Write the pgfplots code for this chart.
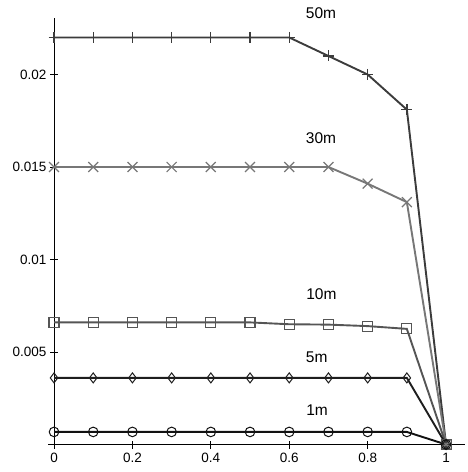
\documentclass[border=0pt]{standalone}
\usepackage{fontspec}
\setmainfont{Liberation Sans}
\usepackage{pgfplots}
\pgfplotsset{compat=1.18}
\definecolor{c50}{HTML}{3C3C3C}
\definecolor{c30}{HTML}{777777}
\definecolor{c10}{HTML}{555555}
\definecolor{c5}{HTML}{1E1E1E}
\definecolor{c1}{HTML}{111111}
\begin{document}
\begin{tikzpicture}
\begin{axis}[
  scale only axis,
  width=416.7pt, height=430.1pt,
  xmin=-0.015, xmax=1.048,
  ymin=-0.0002, ymax=0.02305,
  axis lines=middle,
  axis line style={-, line width=0.9pt, black},
  hide obscured x ticks=false,
  hide obscured y ticks=false,
  scaled y ticks=false,
  scaled x ticks=false,
  xtick={0,0.2,0.4,0.6,0.8,1},
  xticklabels={0,0.2,0.4,0.6,0.8,1},
  ytick={0.005,0.01,0.015,0.02},
  yticklabels={0.005,0.01,0.015,0.02},
  tick align=center,
  major tick length=8pt,
  tick style={black, line width=0.8pt},
  tick label style={font=\fontsize{13.5}{15}\selectfont},
  x tick label style={yshift=-1pt},
  clip=false,
]
\addplot[c50, line width=1.9pt, mark=+, mark size=5.5, mark options={line width=1.3pt}]
  coordinates {(0,0.022)(0.1,0.022)(0.2,0.022)(0.3,0.022)(0.4,0.022)(0.5,0.022)(0.6,0.022)(0.7,0.021)(0.8,0.020)(0.9,0.0181)(1,0)};
\addplot[c30, line width=1.9pt, mark=x, mark size=7, mark options={line width=1.2pt}]
  coordinates {(0,0.015)(0.1,0.015)(0.2,0.015)(0.3,0.015)(0.4,0.015)(0.5,0.015)(0.6,0.015)(0.7,0.015)(0.8,0.0141)(0.9,0.0131)(1,0)};
\addplot[c10, line width=1.9pt, mark=square, mark size=5, mark options={line width=1.1pt}]
  coordinates {(0,0.0066)(0.1,0.0066)(0.2,0.0066)(0.3,0.0066)(0.4,0.0066)(0.5,0.0066)(0.6,0.0065)(0.7,0.00648)(0.8,0.0064)(0.9,0.00625)(1,0)};
\addplot[c5, line width=1.9pt, mark=diamond, mark size=5, mark options={line width=1pt}]
  coordinates {(0,0.0036)(0.1,0.0036)(0.2,0.0036)(0.3,0.0036)(0.4,0.0036)(0.5,0.0036)(0.6,0.0036)(0.7,0.0036)(0.8,0.0036)(0.9,0.0036)(1,0)};
\addplot[c1, line width=1.9pt, mark=o, mark size=4.8, mark options={line width=1pt}]
  coordinates {(0,0.00068)(0.1,0.00068)(0.2,0.00068)(0.3,0.00068)(0.4,0.00068)(0.5,0.00068)(0.6,0.00068)(0.7,0.00068)(0.8,0.00068)(0.9,0.00068)(1,0)};
\node[font=\fontsize{15.5}{17}\selectfont] at (axis cs:0.681,0.02332) {50m};
\node[font=\fontsize{15.5}{17}\selectfont] at (axis cs:0.681,0.01654) {30m};
\node[font=\fontsize{15.5}{17}\selectfont] at (axis cs:0.682,0.00811) {10m};
\node[font=\fontsize{15.5}{17}\selectfont] at (axis cs:0.670,0.00470) {5m};
\node[font=\fontsize{15.5}{17}\selectfont] at (axis cs:0.671,0.00186) {1m};
\coordinate (bl) at (axis cs:-0.1378,-0.001486);
\coordinate (tr) at (axis cs:1.0536,0.024027);
\end{axis}
\pgfresetboundingbox
\path (bl) rectangle (tr);
\end{tikzpicture}
\end{document}
